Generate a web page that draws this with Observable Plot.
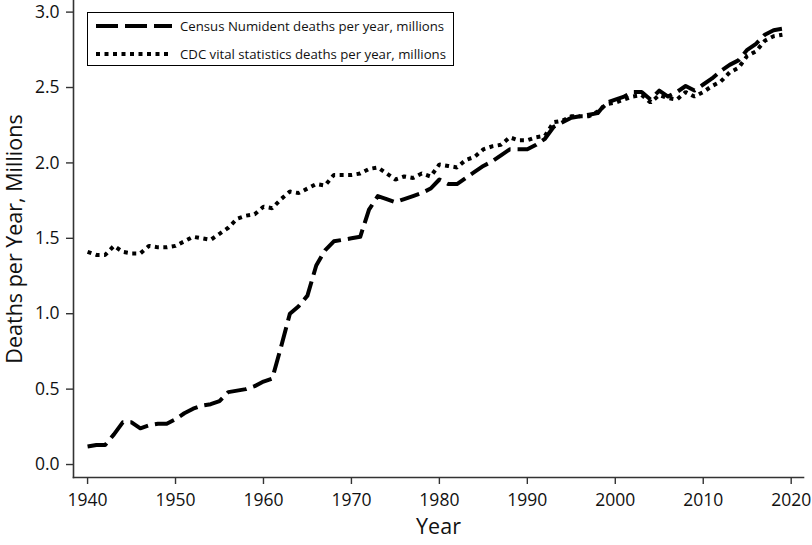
<!DOCTYPE html>
<html>
<head>
<meta charset="utf-8">
<script src="https://cdn.jsdelivr.net/npm/d3@7"></script>
<script src="https://cdn.jsdelivr.net/npm/@observablehq/plot@0.6"></script>
<style>
  html, body { margin: 0; padding: 0; background: #fff; }
  #wrap { position: relative; width: 812px; height: 545px; font-family: "Open Sans", sans-serif; }
  #legend { position: absolute; left: 87px; top: 12px; width: 367px; height: 54px; border: 1.3px solid #000; background: #fff; box-sizing: border-box; }
  .row { position: absolute; left: 0; height: 20px; display: flex; align-items: center; font-size: 13.2px; color: #111; white-space: nowrap; }
  .row svg { margin-left: 8px; margin-right: 8px; }
</style>
</head>
<body>
<div id="wrap"><div id="legend"></div></div>
<script>
const years = d3.range(1940, 2020);
const census = [
  0.12, 0.13, 0.13, 0.20, 0.28, 0.28, 0.24, 0.26, 0.27, 0.27,
  0.30, 0.34, 0.37, 0.39, 0.40, 0.42, 0.48, 0.49, 0.50, 0.52,
  0.55, 0.57, 0.78, 1.00, 1.05, 1.12, 1.32, 1.42, 1.48, 1.49,
  1.50, 1.51, 1.69, 1.78, 1.76, 1.74, 1.76, 1.78, 1.80, 1.83,
  1.89, 1.86, 1.86, 1.90, 1.94, 1.98, 2.01, 2.05, 2.09, 2.09,
  2.09, 2.12, 2.16, 2.24, 2.27, 2.30, 2.31, 2.32, 2.33, 2.40,
  2.42, 2.44, 2.47, 2.47, 2.42, 2.48, 2.44, 2.47, 2.51, 2.48,
  2.52, 2.56, 2.61, 2.65, 2.68, 2.75, 2.79, 2.85, 2.88, 2.89
];
const cdc = [
  1.41, 1.39, 1.39, 1.45, 1.41, 1.40, 1.40, 1.45, 1.44, 1.44,
  1.45, 1.48, 1.51, 1.50, 1.49, 1.53, 1.57, 1.63, 1.65, 1.66,
  1.71, 1.70, 1.76, 1.81, 1.80, 1.83, 1.86, 1.85, 1.92, 1.92,
  1.92, 1.93, 1.96, 1.97, 1.93, 1.89, 1.91, 1.90, 1.93, 1.91,
  1.99, 1.98, 1.97, 2.02, 2.04, 2.09, 2.11, 2.12, 2.17, 2.15,
  2.15, 2.17, 2.18, 2.27, 2.28, 2.31, 2.31, 2.31, 2.34, 2.39,
  2.40, 2.42, 2.44, 2.45, 2.40, 2.45, 2.43, 2.42, 2.47, 2.44,
  2.47, 2.51, 2.54, 2.60, 2.63, 2.71, 2.74, 2.81, 2.84, 2.85
];
const seriesNames = [
  "Census Numident deaths per year, millions",
  "CDC vital statistics deaths per year, millions"
];
const seriesDash = ["20,7", "4,4.5"];
const xTicks = [1940, 1950, 1960, 1970, 1980, 1990, 2000, 2010, 2020];
const yTicks = [0.0, 0.5, 1.0, 1.5, 2.0, 2.5, 3.0];
const xDomain = [1938.4, 2021.4];
const yDomain = [-0.086, 3.077];

const censusData = years.map((y, i) => ({year: y, value: census[i]}));
const cdcData = years.map((y, i) => ({year: y, value: cdc[i]}));

const chart = Plot.plot({
  width: 812,
  height: 545,
  marginLeft: 73,
  marginRight: 9,
  marginTop: 0,
  marginBottom: 68,
  style: {fontFamily: "'Open Sans', sans-serif", fontSize: "17.5px", color: "#111", background: "#fff"},
  x: {domain: xDomain},
  y: {domain: yDomain},
  marks: [
    Plot.frame({anchor: "left", stroke: "#333", strokeWidth: 1.6}),
    Plot.frame({anchor: "bottom", stroke: "#333", strokeWidth: 1.6}),
    Plot.axisX({ticks: xTicks, tickFormat: d => String(d), tickSize: 7, tickPadding: 9, stroke: "#333", strokeWidth: 1.4,
      label: "Year", labelAnchor: "center", labelOffset: 56, labelArrow: "none", fontSize: 17.5}),
    Plot.axisY({ticks: yTicks, tickFormat: d3.format(".1f"), tickSize: 7, tickPadding: 7, stroke: "#333", strokeWidth: 1.4,
      label: "Deaths per Year, Millions", labelAnchor: "center", labelOffset: 67, labelArrow: "none", fontSize: 17.5}),
    Plot.line(censusData, {x: "year", y: "value", stroke: "#000", strokeWidth: 4, strokeDasharray: seriesDash[0], strokeLinecap: "butt", strokeLinejoin: "round"}),
    Plot.line(cdcData, {x: "year", y: "value", stroke: "#000", strokeWidth: 4, strokeDasharray: seriesDash[1], strokeLinecap: "butt", strokeLinejoin: "miter"})
  ]
});
chart.querySelectorAll("g[aria-label='x-axis label'] text, g[aria-label='y-axis label'] text").forEach(t => t.setAttribute("font-size", "21.5"));
document.getElementById("wrap").prepend(chart);

const legend = document.getElementById("legend");
seriesNames.forEach((name, i) => {
  const row = document.createElement("div");
  row.className = "row";
  row.style.top = (3 + i * 28) + "px";
  row.innerHTML = `<svg width="76" height="8"><line x1="0" x2="76" y1="4" y2="4" stroke="#000" stroke-width="4" stroke-dasharray="${i === 0 ? '22,7' : '4,4.5'}"/></svg><span>${name}</span>`;
  legend.appendChild(row);
});
</script>
</body>
</html>
